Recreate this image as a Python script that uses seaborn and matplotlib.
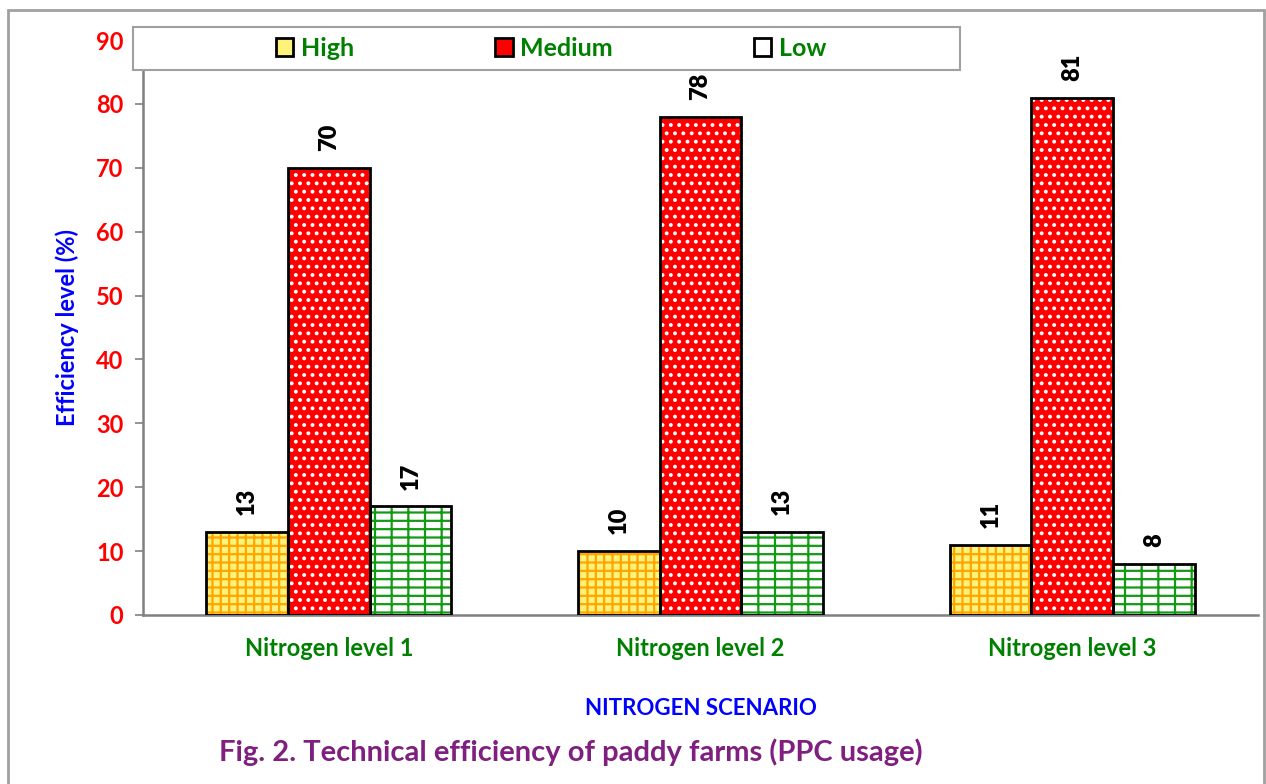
import matplotlib
matplotlib.use("Agg")
import matplotlib.pyplot as plt
import matplotlib.patches as mpatches
import seaborn as sns
import pandas as pd

scenarios = ["Nitrogen level 1", "Nitrogen level 2", "Nitrogen level 3"]
levels = ["High", "Medium", "Low"]
high_vals = [13, 10, 11]
medium_vals = [70, 78, 81]
low_vals = [17, 13, 8]
yticks = [0, 10, 20, 30, 40, 50, 60, 70, 80, 90]

face_colors = {"High": "#FFF27A", "Medium": "#FF0000", "Low": "#FFFFFF"}
hatch_colors = {"High": "#FFA500", "Medium": "#FFFFFF", "Low": "#129A12"}
hatches = {"High": "++", "Medium": "..", "Low": "+-"}

rows = []
for lvl, vals in zip(levels, [high_vals, medium_vals, low_vals]):
    for sc, v in zip(scenarios, vals):
        rows.append({"scenario": sc, "level": lvl, "value": v})
df = pd.DataFrame(rows)

sns.set_style("white")
plt.rcParams["font.family"] = ["Lato", "DejaVu Sans"]
plt.rcParams["font.weight"] = "bold"
plt.rcParams["hatch.linewidth"] = 1.6

fig = plt.figure(figsize=(12.66, 7.84), dpi=100)
ax = fig.add_axes([143 / 1266, 1 - 615 / 784, (1258 - 143) / 1266, (615 - 40) / 784])

sns.barplot(data=df, x="scenario", y="value", hue="level", order=scenarios,
            hue_order=levels, palette=face_colors, width=0.66, saturation=1,
            gap=0, legend=False, ax=ax, errorbar=None)

for cont, lvl in zip(ax.containers, levels):
    for p in cont.patches:
        p.set_hatch(hatches[lvl])
        p.set_edgecolor(hatch_colors[lvl])
        p.set_linewidth(0)
        ax.add_patch(mpatches.Rectangle(p.get_xy(), p.get_width(), p.get_height(),
                                        fill=False, edgecolor="black", linewidth=2, zorder=3))
    labels = ax.bar_label(cont, rotation=90, padding=12, fontsize=17, color="black")
    for t in labels:
        t.set_fontweight("heavy")

ax.set_ylim(0, 90)
ax.set_yticks(yticks)
ax.set_yticklabels([str(t) for t in yticks], color="#FF0000", fontsize=17, fontweight="bold")
ax.tick_params(axis="y", length=6, width=1.2, color="#808080", direction="out", pad=8, left=True)
ax.tick_params(axis="x", length=0, pad=16)
for lbl in ax.get_xticklabels():
    lbl.set_color("#008000")
    lbl.set_fontsize(17)
    lbl.set_fontweight("bold")

for s in ["top", "right"]:
    ax.spines[s].set_visible(False)
for s in ["left", "bottom"]:
    ax.spines[s].set_color("#808080")
    ax.spines[s].set_linewidth(1.8)

ax.set_ylabel("Efficiency level (%)", color="#0000FF", fontsize=17, fontweight="bold", labelpad=12)
ax.set_xlabel("NITROGEN SCENARIO", color="#0000FF", fontsize=16, fontweight="bold", labelpad=27)

# outer chart border
fig.patches.append(mpatches.Rectangle((8 / 1266, -0.01), (1264 - 8) / 1266, 1 - 10 / 784 + 0.01,
                                      transform=fig.transFigure, fill=False,
                                      edgecolor="#A0A0A0", linewidth=2))

# legend box
fig.patches.append(mpatches.Rectangle((133 / 1266, 1 - 70 / 784), (960 - 133) / 1266, 43 / 784,
                                      transform=fig.transFigure, facecolor="white",
                                      edgecolor="#A0A0A0", linewidth=1.5, zorder=5))
handles = [mpatches.Patch(facecolor=face_colors[l], edgecolor="black", linewidth=2)
           for l in levels]
leg = fig.legend(handles, levels, ncol=3, loc="center", bbox_to_anchor=(551 / 1266, 1 - 48 / 784),
                 frameon=False, handlelength=0.7, handleheight=0.7,
                 handletextpad=0.3, columnspacing=5.65, prop={"weight": "bold", "size": 18})
for t in leg.get_texts():
    t.set_color("#008000")
leg.set_zorder(6)

fig.text(571 / 1266, 1 - 752 / 784, "Fig. 2. Technical efficiency of paddy farms (PPC usage)",
         ha="center", va="center", color="#7F1F7F", fontsize=21, fontweight="bold")

fig.savefig("out.png", dpi=100)
